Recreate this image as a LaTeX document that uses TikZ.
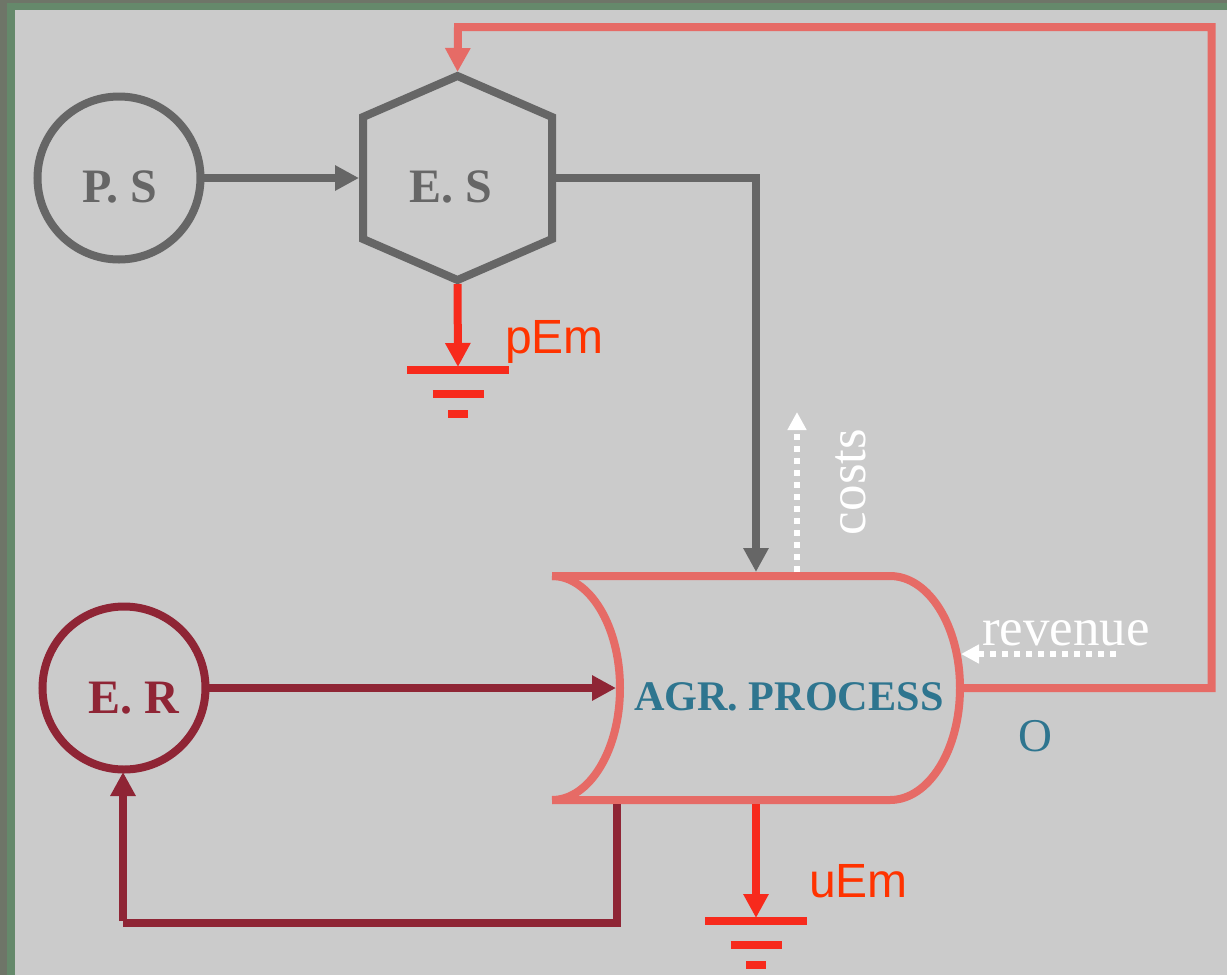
\documentclass[tikz,border=0pt]{standalone}
\usepackage{fontspec}
\setmainfont{Liberation Serif}
\newfontfamily\sansf{Liberation Sans}
\usetikzlibrary{arrows.meta,calc}
\definecolor{outerc}{HTML}{6E7568}
\definecolor{greenc}{HTML}{65896B}
\definecolor{bgc}{HTML}{CBCBCB}
\definecolor{grayc}{HTML}{666666}
\definecolor{salmon}{HTML}{E66B66}
\definecolor{maroon}{HTML}{8F2535}
\definecolor{redc}{HTML}{F72A1C}
\definecolor{redt}{HTML}{FF3300}
\definecolor{teal}{HTML}{2E758F}
\tikzset{
  x=1pt,y=-1pt,
  bigtip/.style={-{Triangle[length=24pt,width=24pt]}},
  smalltip/.style={-{Triangle[length=18pt,width=18pt]}},
  flow/.style={line width=8pt,line join=miter},
  dotflow/.style={line width=6pt,white,dash pattern=on 6.5pt off 5.5pt,smalltip},
  earthbar/.style={line width=8pt,redc},
  ringnode/.style={circle,draw,line width=8pt,minimum size=163pt,inner sep=0pt,outer sep=0pt},
  boxnode/.style={rectangle,inner sep=0pt,outer sep=0pt},
  lab/.style={inner sep=0pt,outer sep=0pt,anchor=base west},
  boldlab/.style={lab,font=\fontsize{48}{52}\selectfont\bfseries},
  seriflab/.style={lab,font=\fontsize{53}{57}\selectfont},
  sanslab/.style={lab,text=redt,font=\fontsize{48}{52}\selectfont\sansf}
}
\begin{document}
\begin{tikzpicture}
\useasboundingbox (0,0) rectangle (1227,975);
\fill[outerc] (0,0) rectangle (1227,975);
\fill[greenc] (7,3) rectangle (1227,975);
\fill[bgc] (15,10) rectangle (1227,975);

% nodes
\node[ringnode,draw=grayc] (ps) at (119,178) {};
\node[ringnode,draw=maroon] (er) at (124,688) {};
\node[boxnode,minimum width=189pt,minimum height=204pt] (es) at (457.5,178) {};
\node[boxnode,minimum width=408pt,minimum height=224pt] (agr) at (756,688) {};

% hexagon
\draw[grayc,line width=8pt,line join=miter]
  (es.north) -- ($(es.north east)+(0,41)$) -- ($(es.south east)+(0,-41)$) -- (es.south)
  -- ($(es.south west)+(0,-41)$) -- ($(es.north west)+(0,41)$) -- cycle;

% process outline
\coordinate (agrleft) at (620,688);
\draw[salmon,line width=8pt]
  (agr.north west) .. controls (589.5,576) and (620,626) .. (agrleft)
  .. controls (620,750) and (589.5,800) .. (agr.south west);
\draw[salmon,line width=8pt]
  (agr.north west) -- (890,576)
  .. controls (928.7,576) and (960,626) .. (agr.east)
  .. controls (960,750) and (928.7,800) .. (890,800) -- (agr.south west);

% grounds
\coordinate (g1) at (458,370);
\coordinate (g2) at (756,921);
\foreach \g in {g1,g2}{
  \draw[earthbar] ($(\g)+(-51,0)$) -- ($(\g)+(51,0)$);
  \draw[earthbar] ($(\g)+(-25.5,24)$) -- ($(\g)+(25.5,24)$);
  \draw[earthbar] ($(\g)+(-10,44)$) -- ($(\g)+(10,44)$);
}

% connectors
\draw[flow,grayc,bigtip,shorten >=4pt] (ps.east) -- (es.west);
\draw[flow,grayc,bigtip,shorten >=4pt] (es.east) -| (756,576);
\draw[flow,redc,bigtip,shorten <=4pt,shorten >=3pt] (es.south) -- (g1);
\draw[flow,redc,bigtip,shorten <=4pt,shorten >=3pt] (agr.south) -- (g2);
\draw[flow,maroon,bigtip,shorten >=4pt] (er.east) -- (agrleft);
\coordinate (retstart) at (617,804);
\coordinate (retcorner) at (123,923);
\draw[flow,maroon] (retstart) -- (617,923) -- (retcorner);
\draw[flow,maroon,bigtip,shorten >=2.5pt] (123,921) -- (er.south -| retcorner);
\coordinate (fbtop) at (1211.5,27);
\draw[flow,salmon,bigtip,shorten >=4pt] (agr.east) -- (1211.5,688) -- (fbtop) -- (458,27) -- (es.north);
\coordinate (costtip) at (797,412);
\coordinate (revstart) at (1116,654);
\coordinate (revtip) at (961,654);
\draw[dotflow] (797,572) -- (costtip);
\draw[dotflow] (revstart) -- (revtip);

% labels
\node[boldlab,text=grayc] (pslab) at (82,202) {P. S};
\node[boldlab,text=grayc] (eslab) at (409,202) {E. S};
\node[boldlab,text=maroon] (erlab) at (88,713) {E. R};
\node[lab,text=teal,font=\fontsize{42.2}{46}\selectfont\bfseries] (agrlab) at (634,710) {AGR. PROCESS};
\node[seriflab,text=white] (revlab) at (982,645) {revenue};
\node[seriflab,text=white,rotate=90] (costlab) at (865,535) {costs};
\node[lab,text=teal,font=\fontsize{47}{50}\selectfont] (olab) at (1018,751) {O};
\node[sanslab] (pem) at (505,353) {pEm};
\node[sanslab] (uem) at (809,897) {uEm};
\end{tikzpicture}
\end{document}
